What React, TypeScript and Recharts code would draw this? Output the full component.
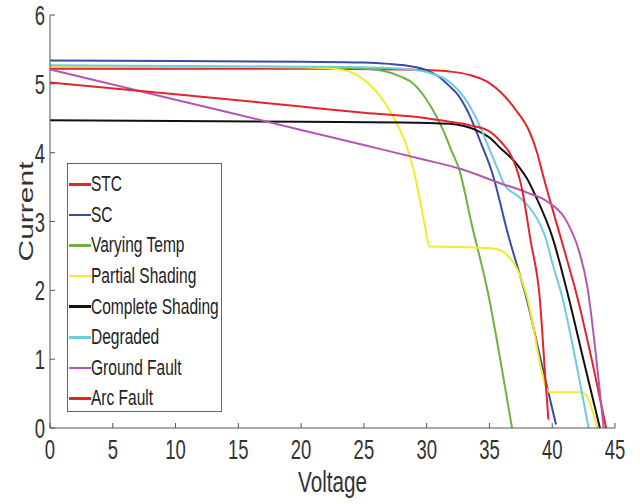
import { LineChart, Line, XAxis, YAxis, Legend } from "recharts";

// I-V curves, [voltage, current] pairs
const stcPoints = [
  [0, 5.22], [10, 5.22], [20, 5.22], [28, 5.21], [30, 5.2], [31.8, 5.18], [33.4, 5.13],
  [35, 5.01], [36, 4.86], [37.1, 4.62], [38.2, 4.3], [38.8, 4.0], [39.3, 3.65],
  [40.7, 2.75], [42, 1.9], [43.2, 0.95], [44.3, 0],
];
const scPoints = [
  [0, 5.34], [10, 5.33], [20, 5.32], [25, 5.31], [27, 5.29], [28.6, 5.26], [30, 5.2],
  [31, 5.1], [31.8, 4.97], [32.4, 4.86], [33.4, 4.55], [34.3, 4.15], [35.2, 3.72],
  [36.5, 2.8], [38, 1.85], [39.2, 0.9], [40.3, 0.05],
];
const tempPoints = [
  [0, 5.25], [10, 5.25], [20, 5.24], [24, 5.23], [26.5, 5.19], [28, 5.1], [28.9, 5.01],
  [29.8, 4.82], [30.5, 4.62], [31.3, 4.33], [32, 4.02], [32.6, 3.75], [33.6, 2.95],
  [34.9, 1.95], [36, 0.85], [36.8, 0],
];
const partialPoints = [
  [0, 5.25], [10, 5.25], [20, 5.24], [22.5, 5.22], [23.8, 5.18], [25.4, 5.0], [26.5, 4.77],
  [27.6, 4.43], [28.4, 4.1], [29, 3.72], [29.9, 2.9], [30.2, 2.64], [30.4, 2.635],
  [32, 2.63], [34, 2.62], [35.5, 2.6], [36.2, 2.55], [36.7, 2.45], [37.1, 2.35],
  [38, 1.9], [39.5, 0.6], [39.75, 0.525], [39.9, 0.52], [41, 0.52], [42.3, 0.52],
  [42.8, 0.45], [43.2, 0.25], [43.6, 0],
];
const completePoints = [
  [0, 4.47], [10, 4.46], [20, 4.45], [28, 4.44], [31.8, 4.42], [33.9, 4.33], [35, 4.22],
  [35.8, 4.08], [37.1, 3.85], [38, 3.62], [38.7, 3.36], [40, 2.78], [41.3, 1.9],
  [42.5, 0.98], [43.8, 0],
];
const degradedPoints = [
  [0, 5.27], [10, 5.26], [20, 5.25], [25, 5.24], [28, 5.22], [30, 5.17], [31.8, 5.03],
  [33, 4.8], [33.9, 4.52], [35, 4.05], [35.8, 3.7], [36.2, 3.53], [37.2, 3.38],
  [38.2, 3.2], [39, 2.97], [39.5, 2.75], [40, 2.4], [40.8, 1.9], [41.9, 0.95], [42.9, 0],
];
const groundPoints = [
  [0, 5.21], [5, 4.99], [10, 4.77], [15, 4.55], [20, 4.33], [25, 4.11], [30, 3.89],
  [32.6, 3.77], [35.8, 3.56], [38, 3.42], [39.7, 3.28], [41.1, 3.02], [42.1, 2.59],
  [42.8, 2.05], [43.5, 1.03], [44.1, 0],
];
const arcPoints = [
  [0, 5.02], [10, 4.85], [20, 4.67], [25, 4.58], [30, 4.5], [31.8, 4.45], [33.4, 4.4],
  [35, 4.31], [36, 4.14], [36.6, 4.0], [37.1, 3.8], [37.5, 3.55], [38.3, 2.7],
  [39, 1.9], [39.5, 0.6], [39.7, 0.12],
];

const xTicks = [0, 5, 10, 15, 20, 25, 30, 35, 40, 45];
const yTicks = [0, 1, 2, 3, 4, 5, 6];

const series = [
  { name: "STC", points: stcPoints, color: "#e3242b" },
  { name: "SC", points: scPoints, color: "#3a4aa6" },
  { name: "Varying Temp", points: tempPoints, color: "#6cb33f" },
  { name: "Partial Shading", points: partialPoints, color: "#f3ea2c" },
  { name: "Complete Shading", points: completePoints, color: "#111111" },
  { name: "Degraded", points: degradedPoints, color: "#6ccce2" },
  { name: "Ground Fault", points: groundPoints, color: "#b358b2" },
  { name: "Arc Fault", points: arcPoints, color: "#e3242b" },
];

const FONT = "'Liberation Sans', Arial, sans-serif";
const SQUISH = 0.66; // the figure is squeezed sideways, text too

const toRows = (pts: number[][]) => pts.map(([v, i]) => ({ v, i }));

function XTick({ x, y, payload }: any) {
  return (
    <g transform={`translate(${x},${y})`}>
      <text transform={`scale(${SQUISH},1)`} textAnchor="middle" y={31} fontSize={28} fill="#333" fontFamily={FONT}>
        {payload.value}
      </text>
    </g>
  );
}

function YTick({ x, y, payload }: any) {
  return (
    <g transform={`translate(${x},${y})`}>
      <text transform={`scale(${SQUISH},1)`} textAnchor="end" y={10} fontSize={28} fill="#333" fontFamily={FONT}>
        {payload.value}
      </text>
    </g>
  );
}

function xTitle({ viewBox }: any) {
  const cx = viewBox.x + viewBox.width / 2;
  return (
    <g transform={`translate(${cx},${viewBox.y + 64})`}>
      <text transform={`scale(0.69,1)`} textAnchor="middle" fontSize={30} fill="#333" fontFamily={FONT}>
        Voltage
      </text>
    </g>
  );
}

function yTitle({ viewBox }: any) {
  const cy = viewBox.y + viewBox.height / 2 - 10;
  return (
    <g transform={`translate(33,${cy}) scale(0.69,1) rotate(-90)`}>
      <text textAnchor="middle" fontSize={30} fill="#333" fontFamily={FONT}>
        Current
      </text>
    </g>
  );
}

function LegendBox() {
  // keep the plotting order, the built-in payload comes back sorted by name
  return (
    <div
      style={{
        width: 155,
        height: 249,
        boxSizing: "border-box",
        border: "1px solid #666",
        background: "#fff",
        paddingTop: 5,
        fontFamily: FONT,
      }}
    >
      {series.map((s) => (
        <div key={s.name} style={{ height: 30.6, display: "flex", alignItems: "center", whiteSpace: "nowrap" }}>
          <span style={{ flex: "0 0 22px", height: 2.5, marginLeft: 1, background: s.color }} />
          <span
            style={{
              flex: "0 0 auto",
              fontSize: 22.5,
              color: "#222",
              transform: "scaleX(0.69)",
              transformOrigin: "left center",
            }}
          >
            {s.name}
          </span>
        </div>
      ))}
    </div>
  );
}

export default function App() {
  return (
    <div style={{ position: "absolute", top: 0, left: 0, width: 640, height: 504 }}>
      <LineChart width={640} height={504} margin={{ top: 15, right: 25, bottom: 0, left: 0 }}>
        <XAxis
          dataKey="v"
          type="number"
          domain={[0, 45]}
          ticks={xTicks}
          allowDataOverflow
          height={76}
          stroke="#555"
          tickSize={-5}
          tickMargin={5}
          tick={<XTick />}
          label={xTitle}
        />
        <XAxis xAxisId="top" orientation="top" type="number" domain={[0, 45]} ticks={xTicks} height={0} stroke="#555" tickSize={-5} tick={false} />
        <YAxis
          type="number"
          domain={[0, 6]}
          ticks={yTicks}
          allowDataOverflow
          width={50}
          stroke="#555"
          tickSize={-5}
          tickMargin={10}
          tick={<YTick />}
          label={yTitle}
        />
        <YAxis yAxisId="right" orientation="right" type="number" domain={[0, 6]} ticks={yTicks} width={0} stroke="#555" tickSize={-5} tick={false} />
        {series.map((s) => (
          <Line
            key={s.name + s.color}
            data={toRows(s.points)}
            dataKey="i"
            name={s.name}
            type="monotone"
            stroke={s.color}
            strokeWidth={2}
            dot={false}
            activeDot={false}
            isAnimationActive={false}
          />
        ))}
        <Legend
          layout="vertical"
          align="center"
          verticalAlign="middle"
          content={LegendBox}
          wrapperStyle={{ position: "absolute", left: 67, top: 163, width: 155, height: 249 }}
        />
      </LineChart>
    </div>
  );
}
